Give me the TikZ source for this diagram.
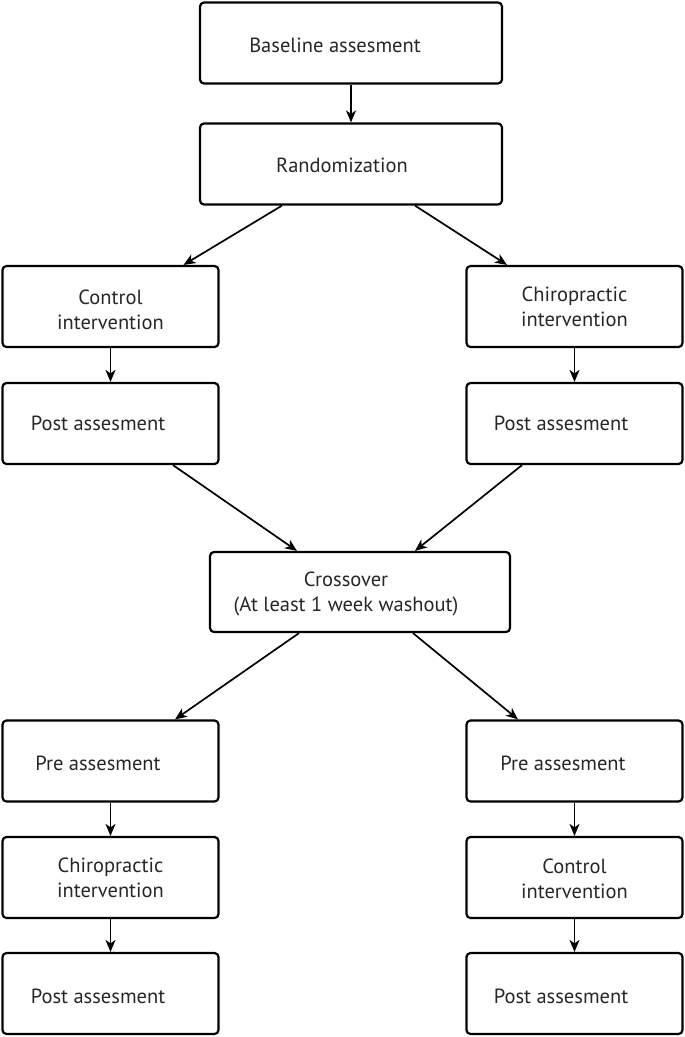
\documentclass[tikz,border=0pt]{standalone}
\usepackage{fontspec}
\setmainfont{PT Sans}
\usetikzlibrary{arrows.meta}
\tikzset{
  stagebox/.style={draw, line width=2.2pt, rounded corners=4pt, minimum width=216pt, minimum height=81pt, inner sep=0pt},
  every label/.style={font=\fontsize{20.5}{25}\selectfont, text=black!85, align=center, inner sep=0pt},
  flow/.style={-{Stealth[length=12pt,width=10pt,inset=3.5pt]}, line width=1.7pt}
}
\begin{document}
\begin{tikzpicture}[x=1pt,y=-1pt]
            \useasboundingbox (0,0) rectangle (685,1037);
            % top
            \node [stagebox, minimum width=302pt, label={[xshift=-16pt,yshift=-2pt]center:Baseline assesment}] (base) at (351,43) {};
            \node [stagebox, minimum width=302pt, label={[xshift=-9pt,yshift=-1pt]center:Randomization}] (rand) at (351,164) {};
            % first period
            \node [stagebox, label={[yshift=-3pt]center:Control\\intervention}] (ctrlA) at (110.5,306.5) {};
            \node [stagebox, label={[yshift=0pt]center:Chiropractic\\intervention}] (chiroA) at (574.5,306.5) {};
            \node [stagebox, label={[xshift=-12.5pt]center:Post assesment}] (postAL) at (110.5,423.5) {};
            \node [stagebox, label={[xshift=-13.5pt]center:Post assesment}] (postAR) at (574.5,423.5) {};
            % washout
            \node [stagebox, minimum width=300pt, minimum height=80pt, label={[xshift=-14pt,yshift=-2pt]center:Crossover\\(At least 1 week washout)}] (cross) at (360,592) {};
            % second period
            \node [stagebox, label={[xshift=-12.5pt,yshift=-2pt]center:Pre assesment}] (preBL) at (110.5,761) {};
            \node [stagebox, label={[xshift=-11.5pt,yshift=-2pt]center:Pre assesment}] (preBR) at (574.5,761) {};
            \node [stagebox, label={[yshift=0pt]center:Chiropractic\\intervention}] (chiroB) at (110.5,877.5) {};
            \node [stagebox, label={[yshift=-1pt]center:Control\\intervention}] (ctrlB) at (574.5,877.5) {};
            \node [stagebox, label={[xshift=-12.5pt,yshift=-3pt]center:Post assesment}] (postBL) at (110.5,993.5) {};
            \node [stagebox, label={[xshift=-13.5pt,yshift=-3pt]center:Post assesment}] (postBR) at (574.5,993.5) {};
            % arrows
            \draw [flow] (base) -- (rand);
            \draw [flow] ([xshift=-69pt]rand.south) -- ([xshift=73pt]ctrlA.north);
            \draw [flow] ([xshift=64pt]rand.south) -- ([xshift=-67.5pt]chiroA.north);
            \draw [flow] (ctrlA) -- (postAL);
            \draw [flow] (chiroA) -- (postAR);
            \draw [flow] ([xshift=62.5pt]postAL.south) -- ([xshift=-63pt]cross.north);
            \draw [flow] ([xshift=-52.5pt]postAR.south) -- ([xshift=55pt]cross.north);
            \draw [flow] ([xshift=-61pt]cross.south) -- ([xshift=64.5pt]preBL.north);
            \draw [flow] ([xshift=53pt]cross.south) -- ([xshift=-56.5pt]preBR.north);
            \draw [flow] (preBL) -- (chiroB);
            \draw [flow] (chiroB) -- (postBL);
            \draw [flow] (preBR) -- (ctrlB);
            \draw [flow] (ctrlB) -- (postBR);
        \end{tikzpicture}
\end{document}
